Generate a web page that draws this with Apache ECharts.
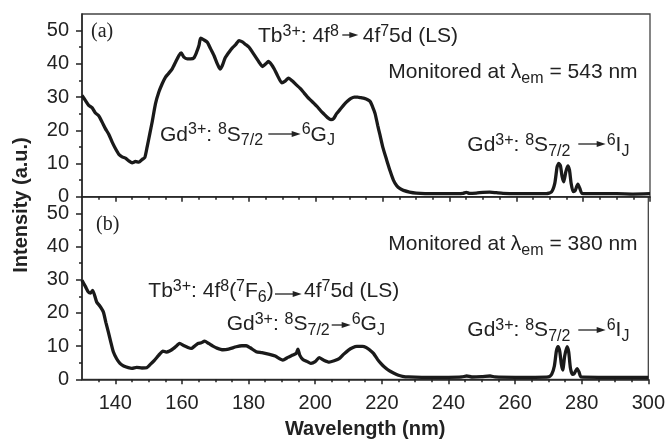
<!DOCTYPE html>
<html style="height: 100%">
  <head>
    <meta charset="UTF-8" />
    <title>Excitation spectra</title>
    <script src="https://cdn.jsdelivr.net/npm/echarts/dist/echarts.min.js"></script>
  </head>
  <body style="height: 100%; margin: 0; background: #fff">
    <div id="main" style="width: 668px; height: 443px"></div>
    <script>
      // panel (a): monitored at 543 nm
      var waveA = [
        130, 131, 132, 133, 134, 135, 136, 137, 138, 139, 140, 141, 142, 143, 144, 145, 146, 147, 148, 148.8,
        149.5, 150.3, 151, 152, 153, 154, 155, 156, 157, 158, 159, 159.7, 160.5, 161.5, 162.5, 163.5, 164.3, 165, 165.5, 166.5,
        167.5, 168.5, 169.5, 170.5, 171.3, 172, 172.8, 174, 175, 176, 177, 178, 179, 180, 181, 182, 183, 184, 185, 185.8,
        186.7, 187.5, 188.5, 189.8, 190.8, 191.8, 193, 194, 195.3, 196.5, 197.5, 198.5, 199.5, 200.5, 201.5, 202.5, 203.5, 204.5, 205.3, 206.2,
        207.2, 208.5, 209.5, 210.5, 211.5, 212.5, 213.5, 214.5, 215.5, 216.3, 217, 217.7, 218.5, 219.2, 220, 221.2, 222.2, 223.2, 224.2, 225.2,
        226.2, 228, 230, 235, 240, 244, 245, 246, 248, 250, 252, 254, 256, 260, 265, 269, 270.5, 271.5, 272.2, 272.7,
        273.2, 273.7, 274.2, 274.8, 275.4, 275.9, 276.4, 277, 277.6, 278.4, 279, 279.6, 281, 285, 290, 295, 300
      ];
      var intensityA = [
        30.5, 29, 27.5, 26.8, 25.2, 24.4, 22.5, 20.5, 18.8, 16.5, 14.5, 12.8, 12, 11.6, 10.8, 10.2, 10.6, 10.4, 11.2, 11.8,
        15, 19, 22.5, 28, 31.5, 34, 36, 37.2, 38.5, 40.5, 42.5, 43.3, 42, 41.5, 41.5, 41.8, 43.5, 45.5, 47.7, 47.2,
        46.5, 44.5, 42.5, 40, 38.4, 39.5, 41.7, 43.5, 44.8, 45.8, 47, 46.6, 45.8, 45, 43.5, 42, 40.5, 39.2, 40, 40.7,
        39.8, 38.5, 36.5, 34.3, 34.8, 35.7, 34.8, 33.8, 32.6, 31.2, 30, 29, 28, 27, 25.8, 24.8, 23.8, 23.2, 23.5, 25,
        26.2, 27.8, 28.8, 29.6, 30, 30, 29.8, 29.6, 29.2, 28.6, 27, 25.1, 21.5, 18.5, 15, 11, 7.8, 5, 3.3, 2.4,
        1.9, 1.4, 1.1, 0.9, 0.9, 1, 1.3, 1, 1.1, 1.3, 1.4, 1.2, 1, 0.9, 0.9, 0.9, 1.4, 4, 9, 10,
        9.3, 6, 4.5, 7.5, 9.3, 8, 4, 1.5, 1.8, 3.8, 2.5, 1, 0.9, 0.9, 0.9, 0.8, 0.9
      ];

      // panel (b): monitored at 380 nm
      var waveB = [
        130, 131, 131.9, 132.6, 133.2, 134.4, 135.4, 136.4, 137.2, 137.9, 138.7, 139.4, 140.4, 141.4, 142.5, 143.9, 145, 146.4, 148, 149.4,
        150.5, 151.8, 153, 154.3, 155.3, 156.3, 157.5, 158.5, 159.3, 160.5, 161.8, 162.8, 163.8, 164.8, 165.8, 166.8, 168, 169.3, 170.5, 172.3,
        174, 176.3, 178, 179.3, 180.5, 182.3, 184, 186.3, 188, 190.3, 191.8, 193.3, 194.3, 194.8, 195.4, 196.3, 197.5, 198.7, 200, 201.2,
        202.5, 204.2, 205.7, 207.2, 208.5, 210, 211.2, 212.5, 214.2, 215.3, 216.2, 217.5, 218.7, 219.7, 220.7, 222.2, 223.5, 225, 226.2, 228,
        232, 240, 244, 245.5, 247, 250, 252.5, 254, 260, 266, 270, 271, 271.8, 272.4, 272.9, 273.4, 273.9, 274.3, 274.9, 275.6,
        276.1, 276.6, 277.2, 277.8, 278.6, 279.2, 279.8, 285, 290, 300
      ];
      var intensityB = [
        29.8, 28, 26.3, 26, 26.8, 23.3, 22, 20.3, 17, 14.3, 11, 8.3, 6.2, 4.8, 4, 3.5, 3.3, 3.6, 3.4, 3.5,
        4.5, 5.8, 7.2, 8.5, 8.2, 8.5, 9.3, 10.2, 10.8, 10.2, 9.6, 9.3, 10, 10.8, 11, 11.5, 10.8, 10, 9.4, 8.9,
        9.1, 9.8, 10.1, 10.1, 9.5, 8.3, 8, 7.5, 7, 5.8, 6.6, 7.3, 7.8, 9.1, 7.2, 6, 5.4, 4.8, 5.3, 6.5,
        5.8, 5.2, 5.6, 6.2, 7.5, 8.8, 9.5, 9.9, 9.9, 9.6, 9, 7.8, 6, 4.8, 3.8, 2.6, 1.9, 1.2, 0.9, 0.7,
        0.6, 0.6, 0.7, 1, 0.7, 0.8, 1, 0.7, 0.6, 0.6, 0.7, 1.5, 4, 8.5, 9.8, 8.5, 4.5, 2.8, 7, 9.8,
        8.2, 3.5, 1.5, 1.8, 3.2, 2.2, 0.7, 0.6, 0.6, 0.6
      ];

      var xMajorTicks = [140, 160, 180, 200, 220, 240, 260, 280, 300];
      var xMinorTicks = [];
      for (var w = 135; w < 300; w += 5) {
        if (w % 20 !== 0) xMinorTicks.push(w);
      }
      var yMajorTicks = [0, 10, 20, 30, 40, 50];
      var yMinorTicks = [5, 15, 25, 35, 45];

      var FONT = '"Liberation Sans", Arial, Helvetica, sans-serif';
      var INK = '#1a1a1a';

      function zip(xs, ys) {
        return xs.map(function (x, i) {
          return [x, ys[i]];
        });
      }

      var axisLineStyle = { color: '#222', width: 1.5 };

      function xAxisPair(gridIndex, withLabels) {
        var major = {
          type: 'value',
          gridIndex: gridIndex,
          position: 'bottom',
          min: 130,
          max: 300,
          axisLine: { show: true, lineStyle: axisLineStyle },
          axisTick: { show: true, length: 5, customValues: xMajorTicks, lineStyle: axisLineStyle },
          axisLabel: {
            show: withLabels,
            customValues: xMajorTicks,
            fontSize: 20,
            fontFamily: FONT,
            color: '#222',
            margin: 14
          },
          splitLine: { show: false }
        };
        if (withLabels) {
          major.name = 'Wavelength (nm)';
          major.nameLocation = 'middle';
          major.nameGap = 40;
          major.nameTextStyle = { fontSize: 20, fontWeight: 'bold', fontFamily: FONT, color: '#222' };
        }
        var minor = {
          type: 'value',
          gridIndex: gridIndex,
          position: 'bottom',
          min: 130,
          max: 300,
          axisLine: { show: false },
          axisTick: { show: true, length: 3, customValues: xMinorTicks, lineStyle: axisLineStyle },
          axisLabel: { show: false },
          splitLine: { show: false }
        };
        return [major, minor];
      }

      function yAxisPair(gridIndex) {
        return [
          {
            type: 'value',
            gridIndex: gridIndex,
            position: 'left',
            min: 0,
            max: 55,
            axisLine: { show: true, lineStyle: axisLineStyle },
            axisTick: { show: true, length: 6, customValues: yMajorTicks, lineStyle: axisLineStyle },
            axisLabel: {
              customValues: yMajorTicks,
              fontSize: 20,
              fontFamily: FONT,
              color: '#222',
              margin: 13
            },
            splitLine: { show: false }
          },
          {
            type: 'value',
            gridIndex: gridIndex,
            position: 'left',
            min: 0,
            max: 55,
            axisLine: { show: false },
            axisTick: { show: true, length: 3, customValues: yMinorTicks, lineStyle: axisLineStyle },
            axisLabel: { show: false },
            splitLine: { show: false }
          }
        ];
      }

      // annotation pieces: [left x, middle y, rich text]
      var rich = {
        sup: { fontSize: 16, fontFamily: FONT, verticalAlign: 'top', padding: [1, 0, 0, 0] },
        sub: { fontSize: 16, fontFamily: FONT, verticalAlign: 'bottom' },
        serif: { fontSize: 20, fontFamily: '"Liberation Serif", "Times New Roman", serif' }
      };
      var notes = [
        [91, 31.5, '{serif|(a)}'],
        [258, 36.5, 'Tb{sup|3+}: 4f{sup|8}'],
        [362.7, 36.5, '4f{sup|7}5d (LS)'],
        [388.3, 72.5, 'Monitored at λ{sub|em} = 543 nm'],
        [160, 135, 'Gd{sup|3+}: {sup|8}S{sub|7/2}'],
        [301.7, 135, '{sup|6}G{sub|J}'],
        [467.3, 145.5, 'Gd{sup|3+}: {sup|8}S{sub|7/2}'],
        [606.7, 145.5, '{sup|6}I{sub|J}'],
        [96, 225, '{serif|(b)}'],
        [388.3, 244.7, 'Monitored at λ{sub|em} = 380 nm'],
        [148.3, 291.7, 'Tb{sup|3+}: 4f{sup|8}({sup|7}F{sub|6})'],
        [304, 291.7, '4f{sup|7}5d (LS)'],
        [226.7, 324.7, 'Gd{sup|3+}: {sup|8}S{sub|7/2}'],
        [351.7, 324.7, '{sup|6}G{sub|J}'],
        [467.3, 330.5, 'Gd{sup|3+}: {sup|8}S{sub|7/2}'],
        [606.7, 330.5, '{sup|6}I{sub|J}']
      ];
      // arrows: [x from, x to, y]
      var arrows = [
        [342.3, 358.3, 35],
        [268.3, 300.7, 134],
        [578.3, 605.7, 144],
        [275, 301.7, 294],
        [331.7, 350.7, 325],
        [578.3, 605.7, 330]
      ];

      var graphics = [
        {
          type: 'text',
          x: 21,
          y: 205,
          rotation: Math.PI / 2,
          style: {
            text: 'Intensity (a.u.)',
            fontSize: 20,
            fontWeight: 'bold',
            fontFamily: FONT,
            fill: '#222',
            align: 'center',
            verticalAlign: 'middle'
          }
        }
      ];
      notes.forEach(function (n) {
        graphics.push({
          type: 'text',
          x: n[0],
          y: n[1],
          style: {
            text: n[2],
            rich: rich,
            fontSize: 21,
            lineHeight: 28,
            fontFamily: FONT,
            fill: '#222',
            align: 'left',
            verticalAlign: 'middle'
          }
        });
      });
      arrows.forEach(function (a) {
        graphics.push({
          type: 'line',
          shape: { x1: a[0], y1: a[2], x2: a[1] - 6, y2: a[2] },
          style: { stroke: '#222', lineWidth: 1.3 }
        });
        graphics.push({
          type: 'polygon',
          shape: { points: [[a[1] - 9, a[2] - 3], [a[1], a[2]], [a[1] - 9, a[2] + 3]] },
          style: { fill: '#222' }
        });
      });

      var chart = echarts.init(document.getElementById('main'));
      var gridBox = { show: true, borderColor: '#444', borderWidth: 1.3, backgroundColor: 'transparent' };
      var option = {
        animation: false,
        backgroundColor: '#fff',
        grid: [
          Object.assign({ left: 82, right: 18, top: 14, height: 182.7 }, gridBox),
          Object.assign({ left: 82, right: 18, top: 196.7, height: 182.6 }, gridBox)
        ],
        xAxis: xAxisPair(0, false).concat(xAxisPair(1, true)),
        yAxis: yAxisPair(0).concat(yAxisPair(1)),
        graphic: graphics,
        series: [
          {
            type: 'line',
            xAxisIndex: 0,
            yAxisIndex: 0,
            data: zip(waveA, intensityA),
            showSymbol: false,
            smooth: 0.2,
            lineStyle: { color: INK, width: 3.3 },
            itemStyle: { color: INK }
          },
          {
            type: 'line',
            xAxisIndex: 2,
            yAxisIndex: 2,
            data: zip(waveB, intensityB),
            showSymbol: false,
            smooth: 0.2,
            lineStyle: { color: INK, width: 3.3 },
            itemStyle: { color: INK }
          }
        ]
      };
      chart.setOption(option);
    </script>
  </body>
</html>
